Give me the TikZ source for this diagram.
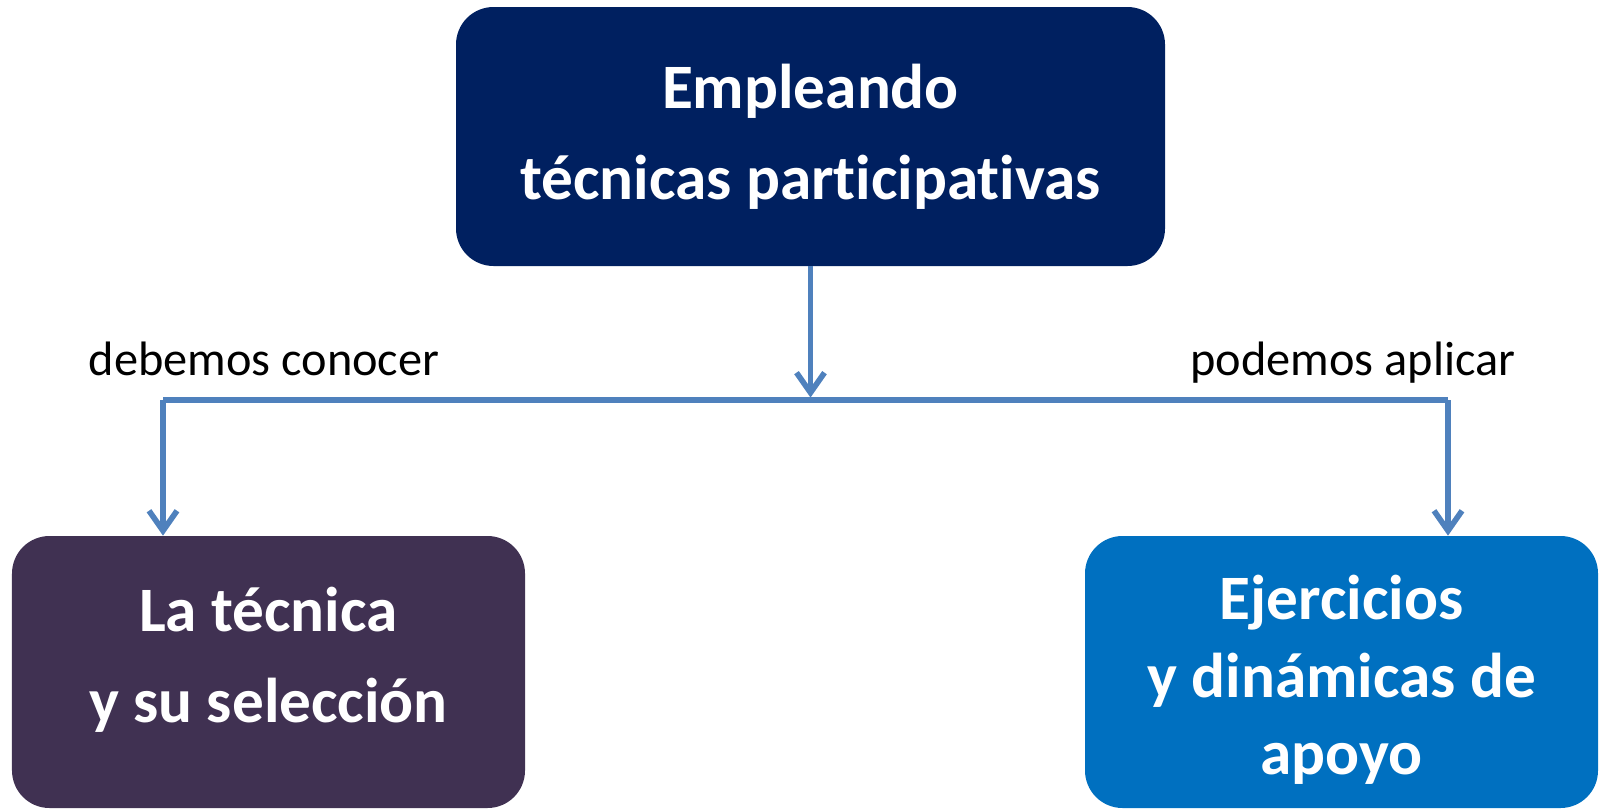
\documentclass[tikz,border=0pt]{standalone}
\usepackage{fontspec}
\setmainfont{Carlito}[Ligatures=NoCommon]
\usetikzlibrary{arrows.meta}
\definecolor{topblue}{RGB}{0,32,96}
\definecolor{plum}{RGB}{64,49,82}
\definecolor{brightblue}{RGB}{0,112,192}
\definecolor{linkblue}{RGB}{79,129,189}
\tikzset{%
    box/.style={%
        rounded corners=0.75cm,%
        minimum width=10.26cm,%
        minimum height=5.44cm%
    },%
    boxtext/.style={%
        text=white,%
        align=center,%
        font=\fontsize{36}{52}\selectfont\bfseries%
    },%
    link/.style={%
        draw=linkblue,%
        line width=3pt%
    },%
    flow/.style={%
        link,%
        -{Straight Barb[length=0.4cm,width=0.56cm,line width=3.2pt]}%
    },%
    tag/.style={%
        anchor=base,%
        font=\fontsize{27.5}{33}\selectfont%
    }%
}

\begin{document}
\begin{tikzpicture}
    \useasboundingbox (0,0) rectangle (31.98,-16.16);
    % boxes
    \node[box, boxtext, fill=topblue, minimum width=14.18cm, minimum height=5.18cm]
        (empleando) at (16.21,-2.73) {Empleando\\técnicas participativas};
    \node[box, fill=plum] (tecnica) at (5.37,-13.44) {};
    \node[boxtext] (tecnicatext) at ([yshift=0.24cm]tecnica.center)
        {La técnica\\y su selección};
    \node[box, fill=brightblue] (ejercicios) at (26.83,-13.44) {};
    \node[boxtext, font=\fontsize{36}{44}\selectfont\bfseries] (ejerciciostext)
        at ([yshift=-0.16cm]ejercicios.center) {Ejercicios\\y dinámicas de\\apoyo};
    % connectors
    \coordinate (split) at (empleando.south |- 0,-8.0);
    \coordinate (lturn) at (3.26,-8.0);
    \coordinate (rturn) at (28.96,-8.0);
    \draw[link] (lturn) -- (rturn);
    \draw[flow, shorten >=1.4pt] (empleando.south) -- (split);
    \draw[flow] (lturn) -- (lturn |- tecnica.north);
    \draw[flow] (rturn) -- (rturn |- ejercicios.north);
    \node[tag] (conocer) at (5.28,-7.5) {debemos conocer};
    \node[tag] (aplicar) at (27.06,-7.5) {podemos aplicar};
\end{tikzpicture}
\end{document}
